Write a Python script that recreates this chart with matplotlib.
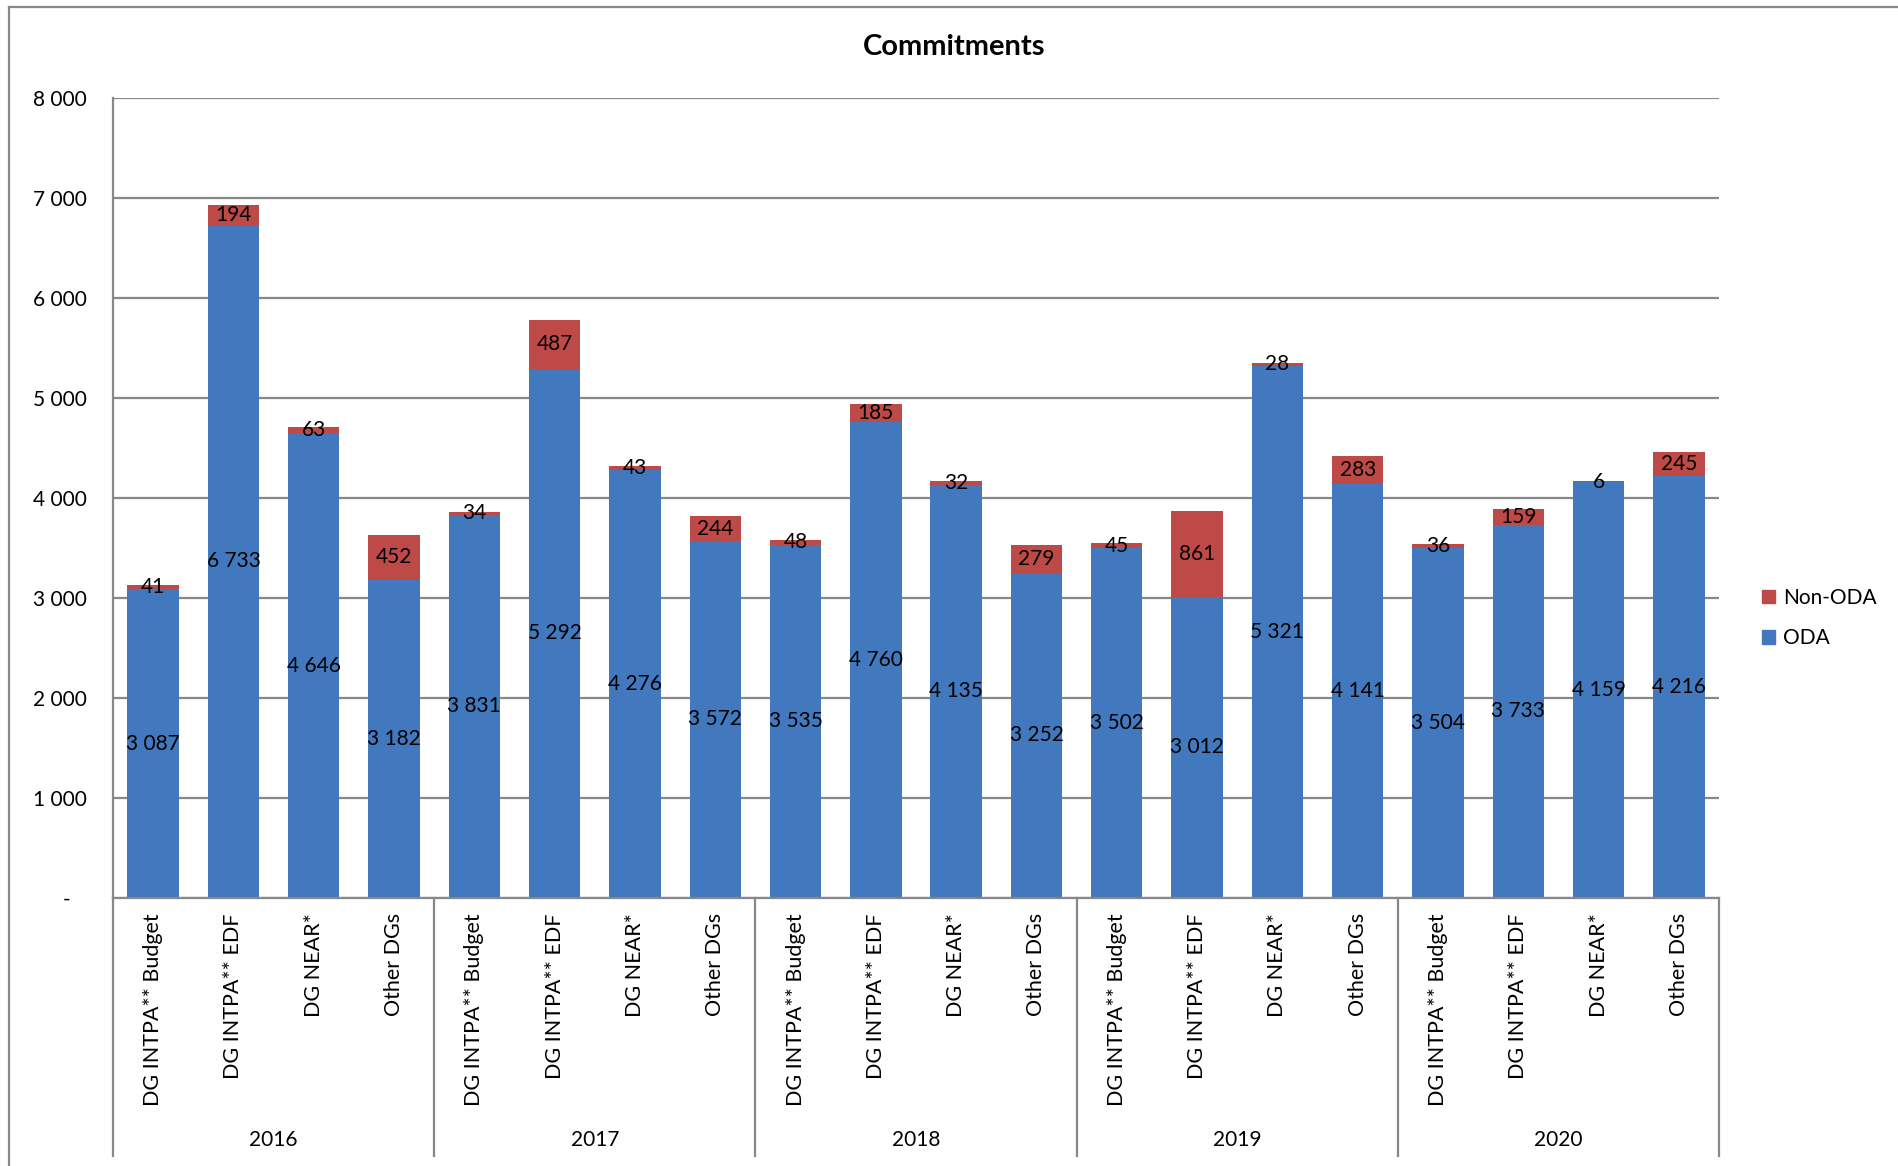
import matplotlib
matplotlib.use("Agg")
import matplotlib.pyplot as plt
from matplotlib.patches import Patch
from matplotlib.lines import Line2D
import numpy as np

years = ["2016", "2017", "2018", "2019", "2020"]
dgs = ["DG INTPA** Budget", "DG INTPA** EDF", "DG NEAR*", "Other DGs"]
oda = [3087, 6733, 4646, 3182,
       3831, 5292, 4276, 3572,
       3535, 4760, 4135, 3252,
       3502, 3012, 5321, 4141,
       3504, 3733, 4159, 4216]
non_oda = [41, 194, 63, 452,
           34, 487, 43, 244,
           48, 185, 32, 279,
           45, 861, 28, 283,
           36, 159, 6, 245]
yticks = [0, 1000, 2000, 3000, 4000, 5000, 6000, 7000, 8000]

blue = "#4279BE"
red = "#BE4A47"
grey = "#888888"
fs = 15

plt.rcParams['font.family'] = ['Lato', 'DejaVu Sans']

def fmt(v):
    return f"{v:,}".replace(",", " ")

fig = plt.figure(figsize=(18.98, 11.66), dpi=100)
ax = fig.add_axes([113/1898, 1 - 898/1166, (1719-113)/1898, 800/1166])

labels = [d for y in years for d in dgs]
x = np.arange(len(labels))
ax.bar(x, oda, width=0.64, color=blue, zorder=2)
ax.bar(x, non_oda, width=0.64, bottom=oda, color=red, zorder=2)

for xi, o, n in zip(x, oda, non_oda):
    ax.text(xi, o / 2, fmt(o), ha="center", va="center", fontsize=fs, zorder=3)
    ax.text(xi, o + n / 2, fmt(n), ha="center", va="center", fontsize=fs, zorder=3)

ax.set_xlim(-0.5, len(labels) - 0.5)
ax.set_ylim(0, 8000)
ax.set_yticks(yticks)
ax.set_yticklabels([fmt(v) if v else "-   " for v in yticks], fontsize=fs)
ax.yaxis.grid(True, color=grey, linewidth=1.6)
ax.set_axisbelow(True)
ax.tick_params(axis="y", length=0, pad=19)
ax.set_xticks(x)
ax.set_xticklabels(labels, rotation=90, fontsize=15.5, va="top")
ax.tick_params(axis="x", length=0, pad=11)
for s in ["top", "right"]:
    ax.spines[s].set_visible(False)
for s in ["left", "bottom"]:
    ax.spines[s].set_color(grey)
    ax.spines[s].set_linewidth(1.6)

# group separators and year labels under the axis
trans = ax.get_xaxis_transform()
for b in np.arange(-0.5, len(labels), 4):
    ax.add_line(Line2D([b, b], [0, -0.322], transform=trans, color=grey,
                       linewidth=1.6, clip_on=False))
for i, yr in enumerate(years):
    ax.text(i * 4 + 1.5, -0.3025, yr, transform=trans, ha="center", va="center",
            fontsize=fs)

fig.text(954/1898, 1 - 47/1166, "Commitments", ha="center", va="center",
         fontsize=21, fontweight="bold")

handles = [Patch(color=red, label="Non-ODA"), Patch(color=blue, label="ODA")]
fig.legend(handles=handles, loc="center left", bbox_to_anchor=(1762/1898, 1 - 618/1166),
           frameon=False, fontsize=fs, handlelength=0.6, handleheight=0.6,
           handletextpad=0.4, labelspacing=1.0, borderpad=0, borderaxespad=0)

# chart area border (top and left edges visible)
fig.add_artist(Line2D([9/1898, 1], [1 - 7/1166, 1 - 7/1166], transform=fig.transFigure,
                      color=grey, linewidth=1.6))
fig.add_artist(Line2D([9/1898, 9/1898], [0, 1 - 7/1166], transform=fig.transFigure,
                      color=grey, linewidth=1.6))

fig.savefig("out.png", dpi=100)
